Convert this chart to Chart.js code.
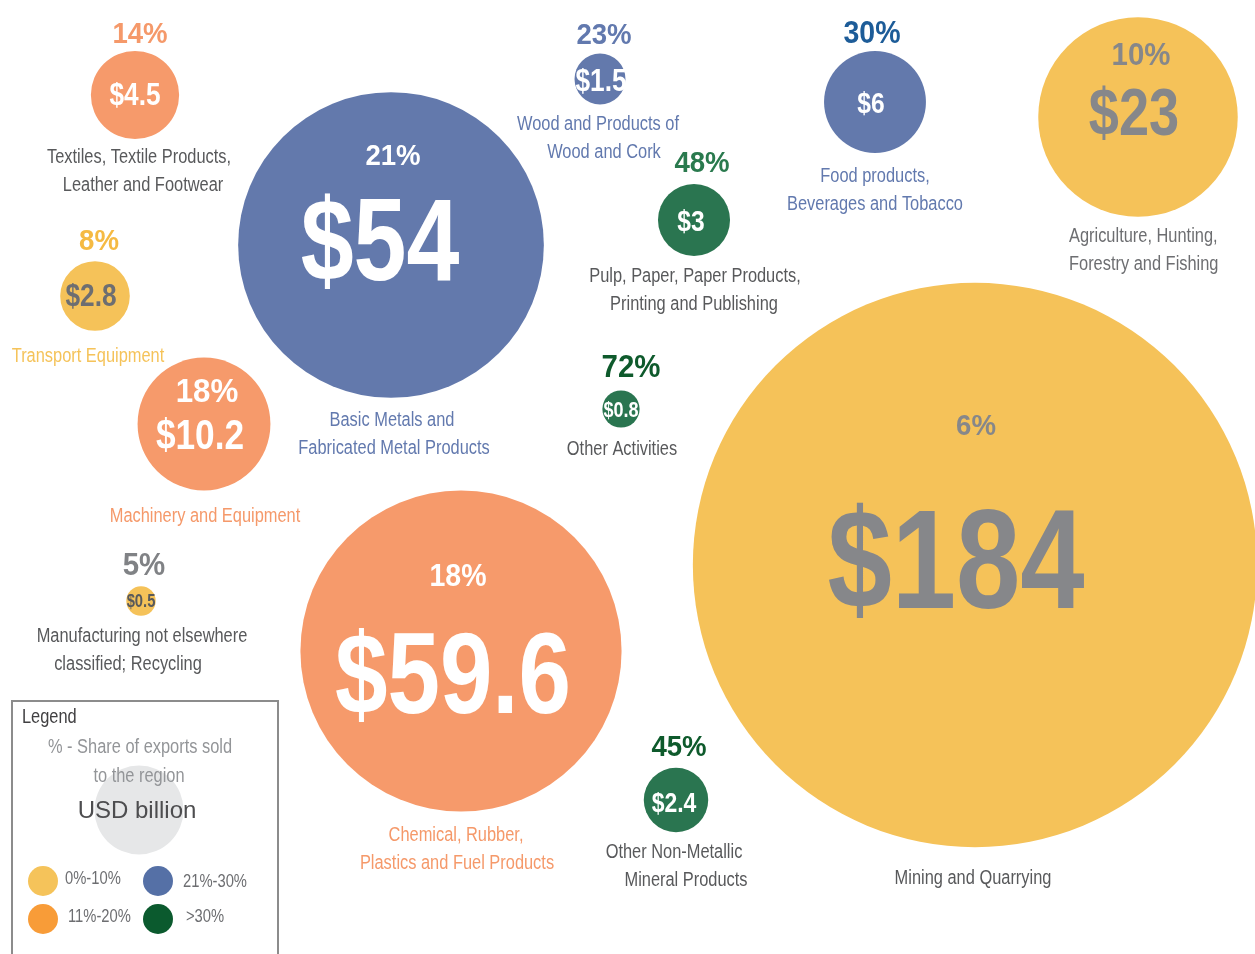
<!DOCTYPE html>
<html>
<head>
<meta charset="utf-8">
<title>Exports by sector</title>
<script src="https://cdn.jsdelivr.net/npm/chart.js@4.4.1/dist/chart.umd.min.js"></script>
<style>
    html, body { margin: 0; padding: 0; background: #ffffff; }
    #bubbles { display: block; }
</style>
</head>
<body>
<canvas id="bubbles" width="1255" height="954"></canvas>
<script>
    "use strict";

    // Sectors, export value (USD billion) and share of exports sold to the region (%)
    const sectors = [
        ["Textiles, Textile Products,", "Leather and Footwear"],
        ["Transport Equipment"],
        ["Basic Metals and", "Fabricated Metal Products"],
        ["Wood and Products of", "Wood and Cork"],
        ["Food products,", "Beverages and Tobacco"],
        ["Agriculture, Hunting,", "Forestry and Fishing"],
        ["Pulp, Paper, Paper Products,", "Printing and Publishing"],
        ["Other Activities"],
        ["Machinery and Equipment"],
        ["Manufacturing not elsewhere", "classified; Recycling"],
        ["Chemical, Rubber,", "Plastics and Fuel Products"],
        ["Other Non-Metallic", "Mineral Products"],
        ["Mining and Quarrying"]
    ];
    const exportValue = [4.5, 2.8, 54, 1.5, 6, 23, 3, 0.8, 10.2, 0.5, 59.6, 2.4, 184];
    const regionShare = [14, 8, 21, 23, 30, 10, 48, 72, 18, 5, 18, 45, 6];

    // Share bands used for colouring
    const bandLabels = ["0%-10%", "11%-20%", "21%-30%", ">30%"];
    const bandLimits = [10, 20, 30, 100];

    // Where each bubble sits on the (hidden) x / y scales
    const bubbleX = [135, 95, 391, 600, 875, 1138, 694, 621, 204, 141, 461, 676, 975];
    const bubbleY = [95, 296, 245, 79, 102, 117, 220, 409, 424, 601, 651, 800, 565];

    // Bubble area is proportional to value
    const RADIUS_K = 20.8;

    const bandFill = ["#f5c259", "#f69a6b", "#6379ac", "#2a7550"];
    const bandSwatch = ["#f5c35a", "#f89c38", "#5570a6", "#0b5a2e"];

    const GREY = "#58595b";
    const MID_GREY = "#86878a";
    const WHITE = "#ffffff";

    // Text placement for every bubble, offsets from the bubble centre
    // p = percent, v = value, n = name ([dx per line], dy of first baseline)
    const labelStyle = [
        { p: [5, -52, 28, "#f5996a"], v: [0, 10, 32, WHITE], n: [[4, 8], 68, GREY] },
        { p: [4, -46, 28, "#f5ba43"], v: [-4, 10, 32, "#6d6e71"], n: [[-7], 66, "#f5c35a"] },
        { p: [2, -80, 28, WHITE], v: [-11, 35, 116, WHITE], n: [[1, 3], 181, "#6279ae"] },
        { p: [4, -35, 28, "#6279ae"], v: [1, 12, 32, WHITE], n: [[-2, 4], 51, "#6279ae"] },
        { p: [-3, -59, 29, "#1d5c98"], v: [-4, 11, 30, WHITE], n: [[0, 0], 80, "#6279ae"] },
        { p: [3, -52, 30, MID_GREY], v: [-4, 18, 66, MID_GREY], n: [[-69, -69], 125, "#6d6e71"], left: true },
        { p: [8, -48, 28, "#2a7a4e"], v: [-3, 11, 30, WHITE], n: [[1, 0], 62, GREY] },
        { p: [10, -32, 30, "#0e5a2c"], v: [0, 8, 22, WHITE], n: [[1], 46, GREY] },
        { p: [3, -22, 32, WHITE], v: [-4, 25, 43, WHITE], n: [[1], 98, "#f5996a"] },
        { p: [3, -26, 30, "#808285"], v: [0, 6, 18, GREY], n: [[1, -13], 41, GREY] },
        { p: [-3, -65, 29, WHITE], v: [-8, 62, 115, WHITE], n: [[-5, -4], 190, "#f5996a"] },
        { p: [3, -44, 28, "#0e5a2c"], v: [-2, 12, 28, WHITE], n: [[-2, 10], 58, GREY] },
        { p: [1, -130, 28, MID_GREY], v: [-19, 43, 141, MID_GREY], n: [[-2], 319, GREY] }
    ];

    const NAME_SIZE = 20;
    const LINE_H = 28;
    const FAMILY = "'Liberation Sans', Arial, sans-serif";

    function bandOf(share) {
        for (let i = 0; i < bandLimits.length; i++) {
            if (share <= bandLimits[i]) return i;
        }
        return bandLimits.length - 1;
    }

    // Narrow text: regular sans squeezed horizontally
    function narrowText(ctx, text, x, y, size, bold, color, align, sx) {
        ctx.save();
        ctx.translate(x, y);
        ctx.scale(sx || 0.82, 1);
        ctx.font = (bold ? "bold " : "") + size + "px " + FAMILY;
        ctx.fillStyle = color;
        ctx.textAlign = align || "center";
        ctx.textBaseline = "alphabetic";
        ctx.fillText(text, 0, 0);
        ctx.restore();
    }

    // Percent, value and sector name for each bubble
    const bubbleLabels = {
        id: "bubbleLabels",
        afterDatasetsDraw(chart) {
            const ctx = chart.ctx;
            const meta = chart.getDatasetMeta(0);
            meta.data.forEach(function (el, i) {
                const s = labelStyle[i];
                const cx = el.x, cy = el.y;
                // the percent sign in these labels runs wide, so squeeze them less
                narrowText(ctx, regionShare[i] + "%", cx + s.p[0], cy + s.p[1], s.p[2] + 2, true, s.p[3], "center", 0.92);
                narrowText(ctx, "$" + exportValue[i], cx + s.v[0], cy + s.v[1], s.v[2], true, s.v[3]);
                sectors[i].forEach(function (line, k) {
                    narrowText(ctx, line, cx + s.n[0][k], cy + s.n[1] + k * LINE_H,
                        NAME_SIZE, false, s.n[2], s.left ? "left" : "center");
                });
            });
        }
    };

    // Boxed key in the lower left corner
    const keyBox = {
        id: "keyBox",
        afterDraw(chart) {
            const ctx = chart.ctx;
            ctx.save();
            ctx.strokeStyle = "#8c8c8c";
            ctx.lineWidth = 2;
            ctx.beginPath();
            ctx.moveTo(12, 960);
            ctx.lineTo(12, 701);
            ctx.lineTo(278, 701);
            ctx.lineTo(278, 960);
            ctx.stroke();

            ctx.fillStyle = "#e6e7e8";
            ctx.beginPath();
            ctx.arc(139, 810, 44.5, 0, Math.PI * 2);
            ctx.fill();
            ctx.restore();

            narrowText(ctx, "Legend", 22, 723, 20, false, "#414042", "left");
            narrowText(ctx, "% - Share of exports sold", 140, 753, 20, false, "#939598");
            narrowText(ctx, "to the region", 139, 782, 20, false, "#939598");

            ctx.save();
            ctx.font = "24px " + FAMILY;
            ctx.fillStyle = "#4d4d4f";
            ctx.textAlign = "center";
            ctx.fillText("USD billion", 137, 818);
            ctx.restore();

            const dotX = [43, 43, 158, 158];
            const dotY = [881, 919, 881, 919];
            const textX = [65, 68, 183, 186];
            const textY = [884, 922, 887, 922];
            bandLabels.forEach(function (lbl, i) {
                ctx.save();
                ctx.fillStyle = bandSwatch[i];
                ctx.beginPath();
                ctx.arc(dotX[i], dotY[i], 15, 0, Math.PI * 2);
                ctx.fill();
                ctx.restore();
                narrowText(ctx, lbl, textX[i], textY[i], 18, false, "#6d6e71", "left");
            });
        }
    };

    const points = exportValue.map(function (v, i) {
        return { x: bubbleX[i], y: bubbleY[i] };
    });

    const ctx = document.getElementById("bubbles").getContext("2d");
    const bubbleChart = new Chart(ctx, {
        type: "bubble",
        data: {
            datasets: [{
                data: points,
                backgroundColor: regionShare.map(function (s) { return bandFill[bandOf(s)]; }),
                borderWidth: 0,
                clip: false,
                radius: function (c) {
                    return RADIUS_K * Math.sqrt(exportValue[c.dataIndex]);
                }
            }]
        },
        options: {
            responsive: false,
            animation: false,
            events: [],
            layout: { autoPadding: false, padding: 0 },
            scales: {
                x: { display: false, min: 0, max: 1255 },
                y: { display: false, min: 0, max: 954, reverse: true }
            },
            plugins: {
                legend: { display: false },
                tooltip: { enabled: false }
            }
        },
        plugins: [bubbleLabels, keyBox]
    });
</script>
</body>
</html>
